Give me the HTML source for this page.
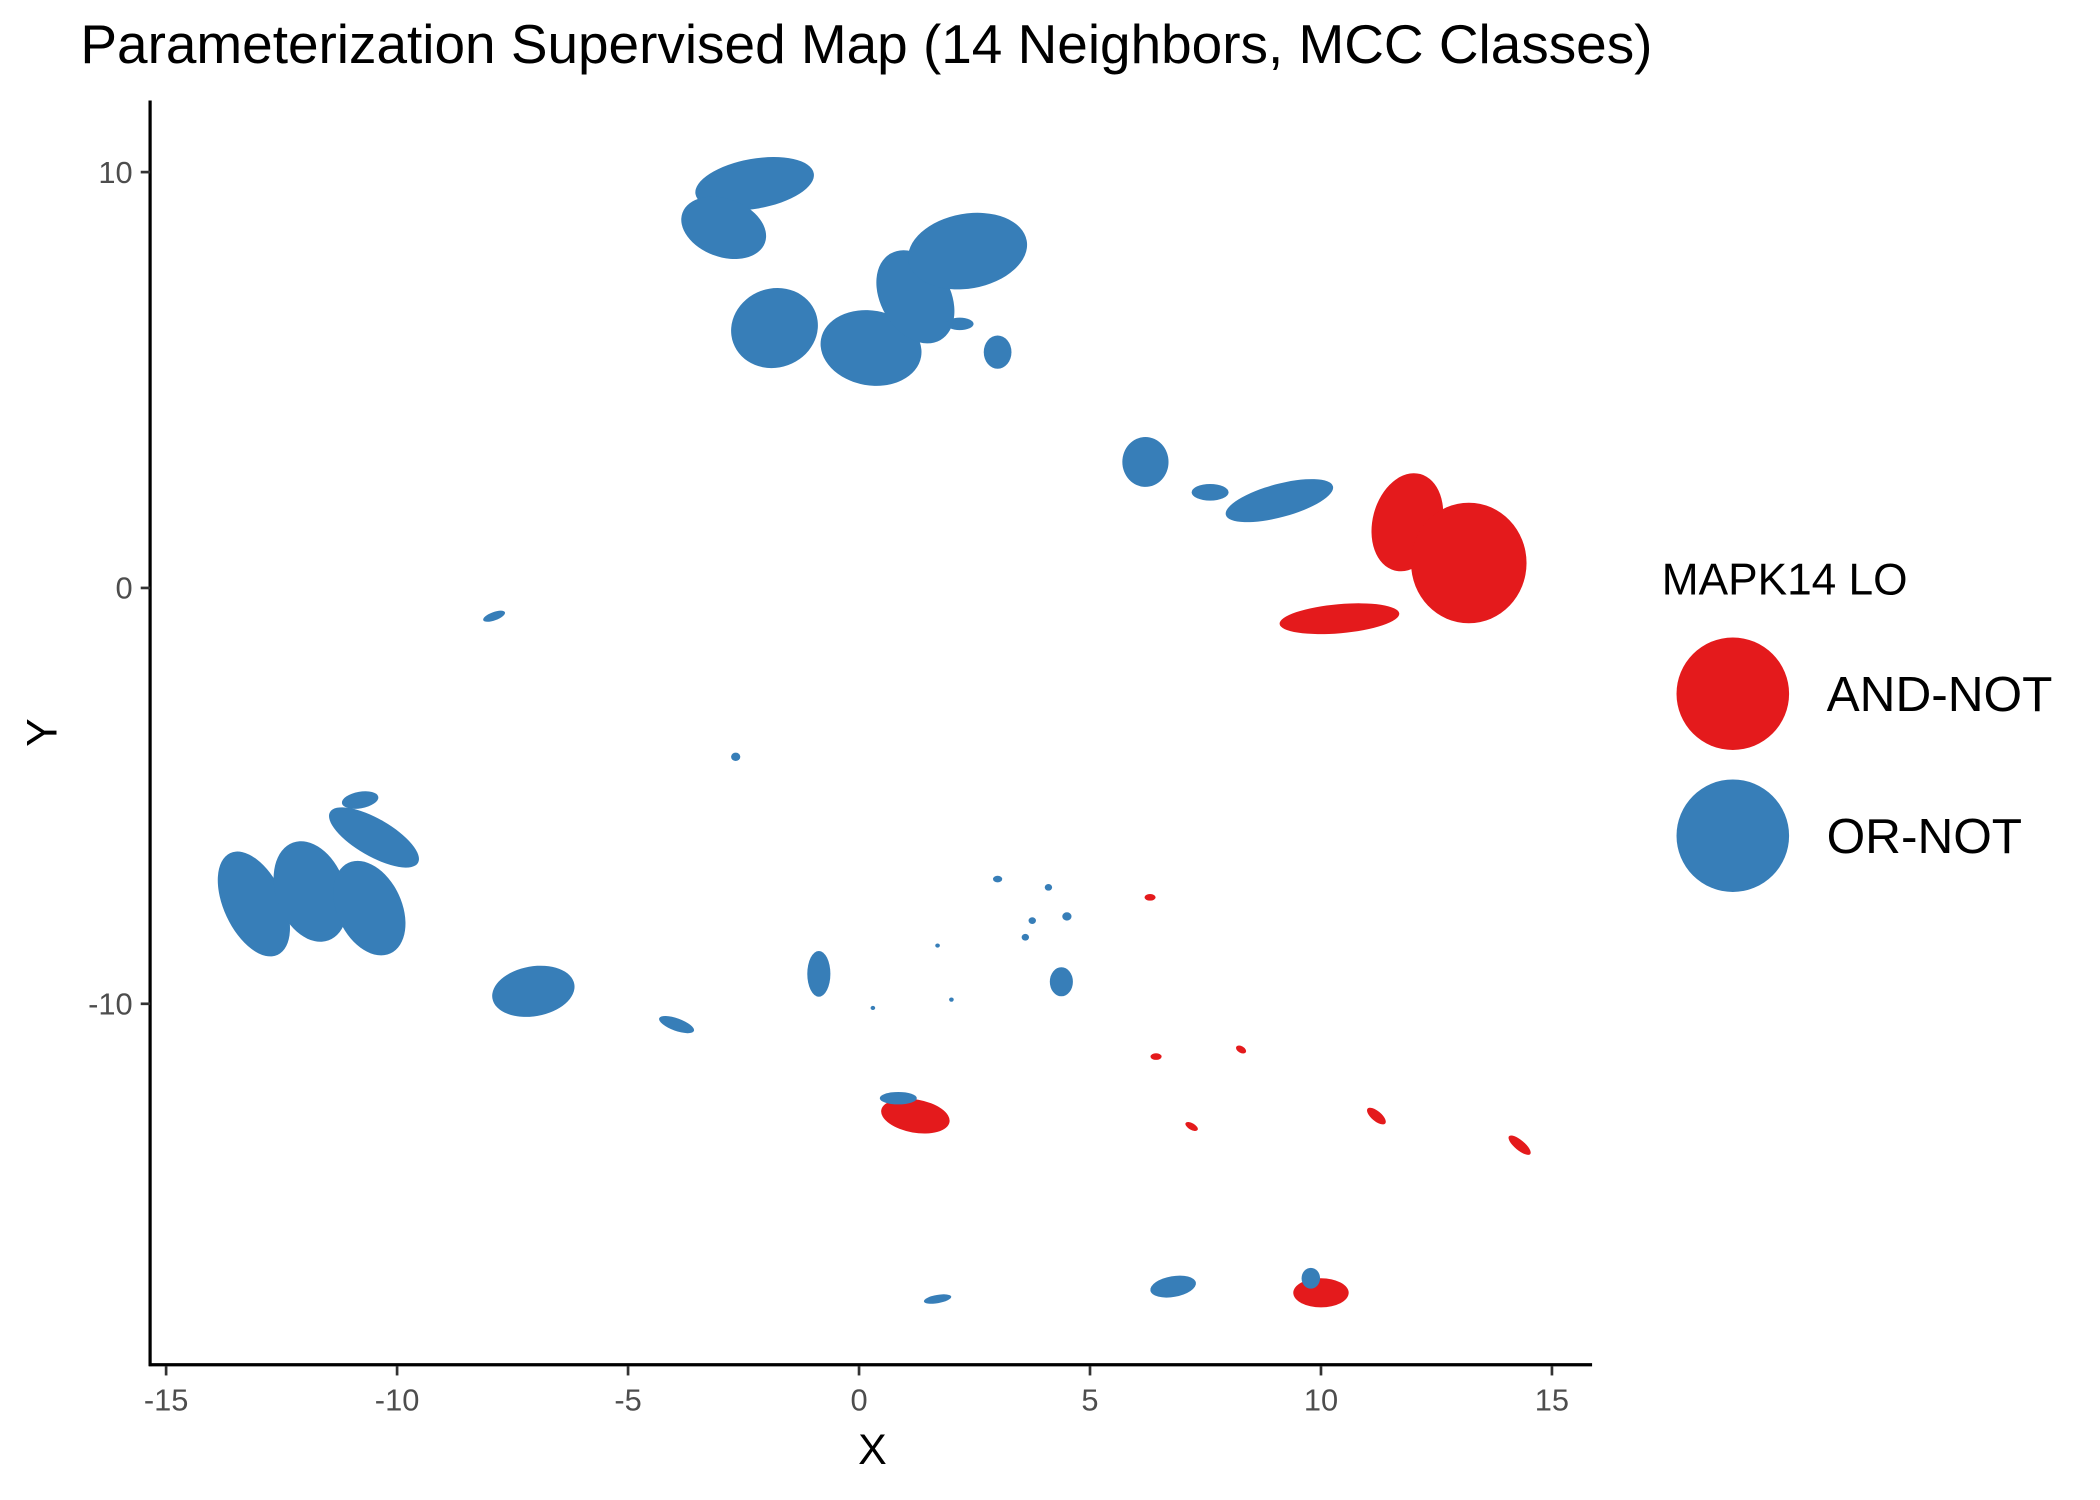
<!DOCTYPE html>
<html><head><meta charset="utf-8"><style>html,body{margin:0;padding:0;background:#fff}svg{display:block}text{font-family:"Liberation Sans",sans-serif}</style></head>
<body>
<svg id="chart" width="2100" height="1500" viewBox="0 0 1567 1120" preserveAspectRatio="none" xmlns="http://www.w3.org/2000/svg">
<text x="60" y="47" font-size="41" fill="#000">Parameterization Supervised Map (14 Neighbors, MCC Classes)</text>
<g id="marks"></g>
<g id="axes"></g>
<text x="651" y="1093" font-size="32" text-anchor="middle">X</text>
<text transform="translate(42,547) rotate(-90)" font-size="32" text-anchor="middle">Y</text>
<g>
<text x="1240" y="444" font-size="33">MAPK14 LO</text>
<circle cx="1293" cy="518" r="42" fill="#E41A1C"/>
<text x="1363" y="531" font-size="37">AND-NOT</text>
<circle cx="1293" cy="624" r="42" fill="#377EB8"/>
<text x="1363" y="637" font-size="37">OR-NOT</text>
</g>
</svg>
<script>
const clusterX = [-2.26,-2.93,-1.83,0.26,1.22,2.35,3.0,2.18,6.2,9.1,7.6,11.87,13.2,10.4,-13.1,-11.87,-10.6,-10.5,-10.8,-7.05,-3.95,-7.9,-2.67,-0.87,4.38,6.8,1.7,1.22,0.85,10.0,9.78,6.3,6.43,8.27,7.2,11.2,14.3,3.0,4.1,3.75,3.6,4.5,1.7,2.0,0.3];
const clusterY = [9.72,8.66,6.25,5.77,7.0,8.1,5.67,6.35,3.03,2.1,2.3,1.58,0.6,-0.74,-7.6,-7.3,-7.7,-6.0,-5.1,-9.7,-10.5,-0.68,-4.06,-9.28,-9.47,-16.8,-17.1,-12.7,-12.27,-16.95,-16.6,-7.44,-11.27,-11.1,-12.95,-12.7,-13.4,-7.0,-7.2,-8.0,-8.4,-7.9,-8.6,-9.9,-10.1];
const clusterRx = [1.3,0.95,0.95,1.1,0.75,1.3,0.3,0.3,0.5,1.2,0.4,0.75,1.25,1.3,0.65,0.75,0.7,1.1,0.4,0.9,0.4,0.25,0.1,0.25,0.25,0.5,0.3,0.75,0.4,0.6,0.2,0.12,0.12,0.12,0.15,0.25,0.3,0.1,0.08,0.08,0.08,0.1,0.05,0.05,0.05];
const clusterRy = [0.6,0.7,0.95,0.9,1.2,0.9,0.4,0.15,0.6,0.4,0.2,1.2,1.45,0.35,1.35,1.25,1.2,0.45,0.2,0.6,0.15,0.1,0.1,0.55,0.35,0.25,0.1,0.4,0.15,0.35,0.25,0.08,0.08,0.08,0.08,0.12,0.12,0.08,0.08,0.08,0.08,0.1,0.05,0.05,0.05];
const clusterAngle = [-10,20,-20,10,-30,-10,0,0,0,-15,0,15,0,-5,-25,-20,-25,30,-10,-10,20,-20,0,0,0,-10,-10,10,0,0,0,0,0,30,30,40,40,0,0,0,0,0,0,0,0];
const clusterClass = ["OR","OR","OR","OR","OR","OR","OR","OR","OR","OR","OR","AND","AND","AND","OR","OR","OR","OR","OR","OR","OR","OR","OR","OR","OR","OR","OR","AND","OR","AND","OR","AND","AND","AND","AND","AND","AND","OR","OR","OR","OR","OR","OR","OR","OR"];
const xTicks = [-15,-10,-5,0,5,10,15];
const yTicks = [10,0,-10];

const NS="http://www.w3.org/2000/svg";
const xs = v => 641 + v*34.47;
const ys = v => 439 - v*31.05;
const marks=document.getElementById('marks');
for(let i=0;i<clusterX.length;i++){
  const e=document.createElementNS(NS,'ellipse');
  const cx=xs(clusterX[i]), cy=ys(clusterY[i]);
  e.setAttribute('cx',cx);e.setAttribute('cy',cy);
  e.setAttribute('rx',clusterRx[i]*34.47);e.setAttribute('ry',clusterRy[i]*31.05);
  e.setAttribute('transform',`rotate(${clusterAngle[i]} ${cx} ${cy})`);
  e.setAttribute('fill',clusterClass[i]==="AND"?"#E41A1C":"#377EB8");
  
  
  marks.appendChild(e);
}
const ax=document.getElementById('axes');
function el(t,a){const n=document.createElementNS(NS,t);for(const k in a)n.setAttribute(k,a[k]);ax.appendChild(n);return n;}
let l=el('line',{x1:112,y1:75,x2:112,y2:1020,stroke:'#000','stroke-width':2.4});


l=el('line',{x1:111,y1:1019,x2:1188,y2:1019,stroke:'#000','stroke-width':2.4});


xTicks.forEach(v=>{
  const t=el('line',{x1:xs(v),y1:1020,x2:xs(v),y2:1027,stroke:'#333','stroke-width':2});
  
  
  const tx=el('text',{x:xs(v),y:1053,'font-size':23,'text-anchor':'middle',fill:'#4d4d4d'});
  tx.textContent=v;
  
  
});
yTicks.forEach(v=>{
  const t=el('line',{x1:105,y1:ys(v),x2:112,y2:ys(v),stroke:'#333','stroke-width':2});
  
  
  const tx=el('text',{x:99,y:ys(v)+8,'font-size':23,'text-anchor':'end',fill:'#4d4d4d'});
  tx.textContent=v;
  
  
});
</script>
</body></html>
